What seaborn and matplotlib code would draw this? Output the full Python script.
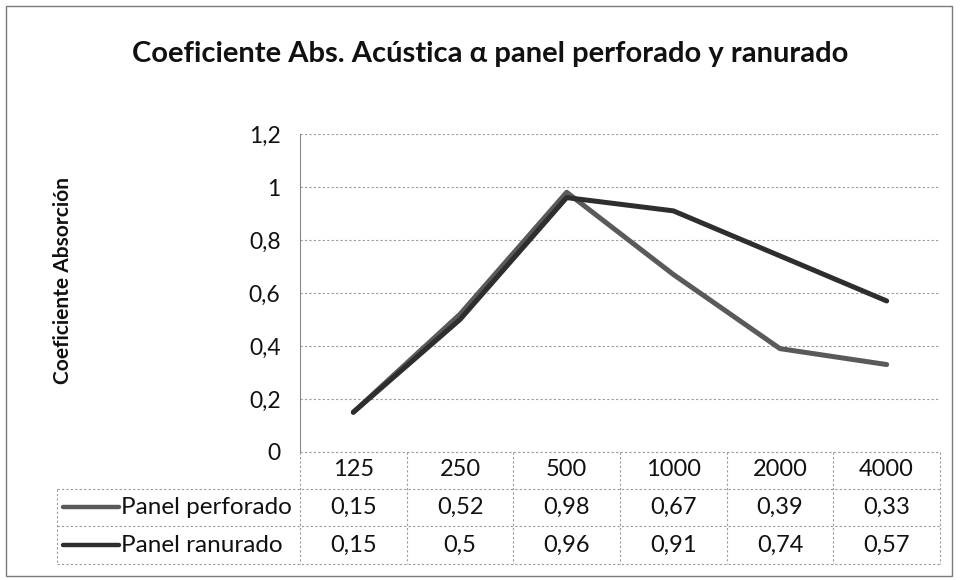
import matplotlib
matplotlib.use("Agg")
import matplotlib.pyplot as plt
import matplotlib.transforms as mtransforms
import seaborn as sns
import pandas as pd

frequencies = ["125", "250", "500", "1000", "2000", "4000"]
perforado = [0.15, 0.52, 0.98, 0.67, 0.39, 0.33]
ranurado = [0.15, 0.5, 0.96, 0.91, 0.74, 0.57]
series_names = ["Panel perforado", "Panel ranurado"]
y_ticks = [0, 0.2, 0.4, 0.6, 0.8, 1.0, 1.2]
y_tick_labels = ["0", "0,2", "0,4", "0,6", "0,8", "1", "1,2"]

colors = {"Panel perforado": "#5a5a5a", "Panel ranurado": "#2e2e2e"}

sns.set_style("white")
plt.rcParams["font.family"] = ["Lato", "DejaVu Sans"]
plt.rcParams["text.color"] = "#111111"
plt.rcParams["ytick.color"] = "#111111"

W, H = 960, 580
fig = plt.figure(figsize=(W / 100, H / 100), dpi=100)


def fx(x):
    return x / W


def fy(y):
    return 1 - y / H


ax = fig.add_axes([fx(300), fy(452), fx(940) - fx(300), fy(134) - fy(452)])

df = pd.DataFrame({
    "pos": list(range(len(frequencies))) * 2,
    "valor": perforado + ranurado,
    "serie": [series_names[0]] * len(frequencies) + [series_names[1]] * len(frequencies),
})
sns.lineplot(data=df, x="pos", y="valor", hue="serie", palette=colors,
             linewidth=3.6, ax=ax, legend=False, sort=False)

ax.set_xlim(-0.5, len(frequencies) - 0.5)
ax.set_ylim(0, 1.2)
ax.set_yticks(y_ticks)
ax.set_yticklabels(y_tick_labels, fontsize=16.5)
ax.set_xticks([])
ax.set_xlabel("")
ax.set_ylabel("")
ax.tick_params(axis="y", length=0, pad=14)
ax.grid(axis="y", color="#9a9a9a", linestyle=(0, (2, 2)), linewidth=0.8)
for side in ["top", "right", "bottom"]:
    ax.spines[side].set_visible(False)
ax.spines["left"].set_color("#8a8a8a")
ax.spines["left"].set_linewidth(0.8)

# title and y label
fig.text(fx(490), fy(54), "Coeficiente Abs. Acústica α panel perforado y ranurado",
         ha="center", va="center", fontsize=21, fontweight="bold")
fig.text(fx(63), fy(280), "Coeficiente Absorción", ha="center", va="center",
         rotation=90, fontsize=15, fontweight="bold")

# data table under the plot
blend = mtransforms.blended_transform_factory(ax.transData, fig.transFigure)
grid_kw = dict(color="#9a9a9a", linewidth=0.8, linestyle=(0, (2, 2)))
row_tops = [452, 489, 526, 564]
for y in row_tops:
    x0 = 300 if y == 452 else 57
    fig.add_artist(plt.Line2D([fx(x0), fx(940)], [fy(y), fy(y)], transform=fig.transFigure, **grid_kw))
for i in range(len(frequencies) + 1):
    fig.add_artist(plt.Line2D([i - 0.5, i - 0.5], [fy(452), fy(564)], transform=blend, **grid_kw))
fig.add_artist(plt.Line2D([fx(57), fx(57)], [fy(489), fy(564)], transform=fig.transFigure, **grid_kw))

for i, f in enumerate(frequencies):
    fig.text(i, fy(470), f, transform=blend, ha="center", va="center", fontsize=17)

rows = [(series_names[0], perforado, 507), (series_names[1], ranurado, 545)]
for name, vals, yc in rows:
    fig.add_artist(plt.Line2D([fx(63), fx(119)], [fy(yc), fy(yc)], transform=fig.transFigure,
                              color=colors[name], linewidth=3.2))
    fig.text(fx(121), fy(yc), name, ha="left", va="center", fontsize=17.5)
    for i, v in enumerate(vals):
        lbl = f"{v:g}".replace(".", ",")
        fig.text(i, fy(yc), lbl, transform=blend, ha="center", va="center", fontsize=17)

# outer border of chart area
fig.add_artist(plt.Rectangle((fx(6), fy(576)), fx(952) - fx(6), fy(6) - fy(576),
                             transform=fig.transFigure, fill=False, edgecolor="#7a7a7a", linewidth=1))

plt.savefig("out.png", dpi=100)
plt.close()
